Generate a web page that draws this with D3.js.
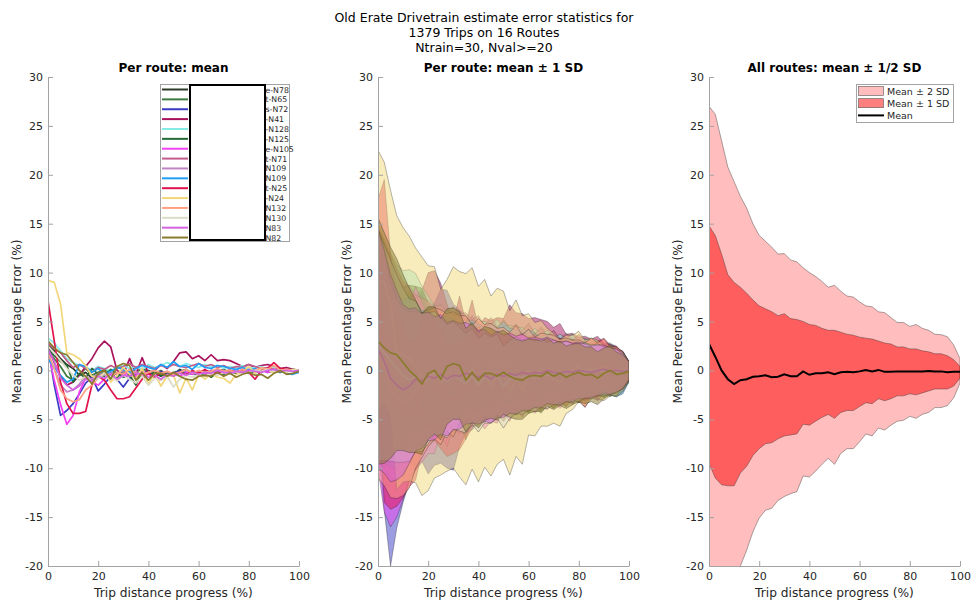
<!DOCTYPE html>
<html>
<head>
<meta charset="utf-8">
<script src="https://cdn.jsdelivr.net/npm/d3@7"></script>
<style>
  body { margin: 0; background: #fff; }
  text { font-family: "DejaVu Sans", sans-serif; fill: #262626; }
</style>
</head>
<body>
<svg id="chart" width="972" height="601"></svg>
<script>
const progress = [0,2.5,5,7.5,10,12.5,15,17.5,20,22.5,25,27.5,30,32.5,35,37.5,40,42.5,45,47.5,50,52.5,55,57.5,60,62.5,65,67.5,70,72.5,75,77.5,80,82.5,85,87.5,90,92.5,95,97.5,100];
const xTicks = [0, 20, 40, 60, 80, 100];
const yTicks = [-20, -15, -10, -5, 0, 5, 10, 15, 20, 25, 30];

const titleLines = ["Old Erate Drivetrain estimate error statistics for", "1379 Trips on 16 Routes", "Ntrain=30, Nval>=20"];
const panelTitles = ["Per route: mean", "Per route: mean \u00b1 1 SD", "All routes: mean \u00b1 1/2 SD"];

const routeLabels = ["e-N78","t-N65","s-N72","-N41","-N128","-N125","e-N105","t-N71","N109","N109","t-N25","-N24","N132","N130","N83","N82"];
const routeColors = ["#2c3b27","#3d7b3e","#3a3ac4","#a8125c","#84ece4","#246b35","#f240f2","#c25b8c","#c183c4","#1e9ef8","#e2124c","#f2d77a","#ff9f82","#dcdcc6","#d463e2","#8a7a2c"];

// mean error per route, one row per route
const routeMeans = [
  [2.6,2.0,1.2,0.6,0.2,-0.5,-0.2,-0.8,-0.4,-0.1,-0.6,-0.3,0.1,-0.5,-0.2,-0.4,0.0,-0.3,-0.6,-0.2,-0.4,0.1,-0.3,-0.2,-0.5,-0.1,-0.2,0.0,-0.3,-0.2,-0.1,-0.3,0.0,-0.2,-0.1,0.1,-0.2,0.0,-0.1,0.0,-0.1],
  [1.9,1.2,0.4,-0.6,-1.0,-0.4,0.2,-0.5,-0.2,0.1,-0.3,-0.8,0.0,-0.4,-0.2,0.2,-0.1,-0.3,0.0,-0.5,-0.2,-0.1,0.1,-0.3,-0.2,0.0,-0.4,-0.1,0.1,-0.2,0.0,-0.1,-0.3,0.0,0.1,-0.1,0.0,-0.2,0.1,0.0,-0.1],
  [2.5,-1.5,-4.6,-4.1,-3.4,-2.4,-1.3,-0.7,-2.1,-1.4,-0.6,-0.9,-1.7,-0.8,-0.4,-0.6,-0.2,-0.5,-0.1,-0.4,-0.3,0.0,-0.2,-0.4,-0.1,-0.3,0.0,-0.2,-0.1,0.0,-0.3,-0.1,0.0,-0.2,0.1,-0.1,0.0,-0.1,0.0,0.1,-0.1],
  [2.4,0.8,-0.6,-1.5,-1.2,-0.5,0.4,1.2,2.3,3.0,2.4,0.0,-0.5,1.2,-0.4,1.3,-0.3,0.0,0.6,0.2,0.9,1.8,1.9,1.2,1.5,1.0,1.6,1.0,1.1,1.0,0.7,0.4,0.6,0.3,0.5,0.6,0.4,0.2,0.3,0.1,0.0],
  [3.3,2.8,2.0,1.2,0.8,0.5,0.3,0.0,0.4,0.2,-0.1,0.3,0.5,0.2,0.4,0.1,0.6,0.3,0.5,0.8,0.6,0.4,0.7,0.5,0.3,0.6,0.4,0.5,0.2,0.4,0.3,0.5,0.2,0.3,0.4,0.1,0.3,0.2,0.1,0.0,-0.1],
  [2.2,1.5,0.9,0.5,-1.2,-0.3,-0.8,0.2,-0.4,-0.6,0.1,-0.3,-0.7,-0.5,-1.5,0.0,-0.4,-0.2,-0.5,-0.3,-0.6,-0.1,-0.4,-0.2,-0.5,-0.3,-0.7,-0.2,-0.4,-0.1,-0.3,0.0,-0.2,-0.1,0.1,-0.2,0.0,-0.1,0.0,0.1,0.0],
  [2.0,-1.0,-3.5,-5.5,-4.6,-2.2,-0.8,-1.2,-1.5,-0.9,-0.3,-1.0,-0.5,-0.2,-0.6,0.0,-0.4,-0.7,-1.0,-0.5,-0.3,-0.6,-0.2,-0.4,-0.1,-0.3,-0.5,-0.2,0.0,-0.3,-0.1,-0.2,0.1,-0.1,0.0,-0.2,0.0,0.1,-0.1,0.0,-0.1],
  [2.8,2.2,1.8,1.0,0.3,0.6,0.2,-0.2,0.3,0.1,0.5,0.2,0.4,0.7,0.3,0.6,0.4,0.2,0.5,0.3,0.6,0.4,0.3,0.5,0.7,0.4,0.6,0.3,0.5,0.2,0.4,0.3,0.6,0.4,0.2,0.3,0.1,0.2,0.0,0.1,-0.1],
  [1.5,0.2,-1.5,-2.2,-2.0,-1.4,-0.6,-0.9,-0.3,-0.5,-0.2,-0.4,0.0,-0.3,-0.1,-0.5,-0.2,0.0,-0.3,-0.1,-0.4,-0.2,0.0,-0.3,-0.1,-0.2,0.0,-0.1,-0.3,-0.1,0.0,-0.2,-0.1,0.0,-0.1,0.1,0.0,-0.1,0.0,0.0,-0.1],
  [1.2,0.3,-0.5,-1.2,-0.9,0.6,0.4,-0.2,0.2,-0.4,-0.1,0.3,0.1,-0.2,0.2,0.5,0.3,0.1,0.6,0.3,0.9,0.4,0.5,0.1,0.7,0.3,0.2,0.5,0.4,0.2,0.1,0.3,0.0,0.2,-0.1,0.1,-0.2,0.0,-0.3,-0.4,-0.2],
  [7.1,3.0,-1.2,-3.4,-4.4,-4.4,-4.2,-1.5,-0.6,-1.0,-2.0,-2.9,-2.9,-2.7,-1.8,-0.9,-0.3,-0.7,-0.2,-0.6,-0.4,-0.2,-0.5,0.0,-0.3,0.1,-0.3,-0.2,-0.1,0.0,-0.2,0.1,-0.2,-0.9,0.0,0.2,0.8,0.2,0.1,0.0,-0.1],
  [9.2,9.0,6.8,1.8,1.6,1.2,0.5,-0.6,-0.8,-0.2,-1.2,-0.5,0.3,-0.4,-0.9,0.2,-1.4,-0.3,-1.6,-0.6,-0.5,-2.3,-0.8,-2.0,-0.4,-0.9,-0.3,-0.7,-0.8,-1.3,-0.4,-0.2,0.4,-0.3,0.2,0.1,-0.3,0.0,-0.2,0.1,0.0],
  [1.8,0.2,-2.0,-2.9,-3.2,-3.0,-2.0,-1.5,-0.8,-0.3,-0.7,-0.2,-0.4,0.1,-0.3,-0.5,-0.2,0.0,-0.3,-0.1,-0.4,-0.2,0.1,-0.3,0.0,-0.2,-0.1,0.2,-0.1,0.0,-0.2,0.1,-0.1,0.0,0.3,0.1,0.5,0.0,0.1,0.0,-0.1],
  [2.5,1.8,1.0,0.2,-0.5,-1.0,-0.6,-1.2,-0.8,-0.3,-0.6,-1.1,-0.5,-0.9,-1.3,-0.6,-1.5,-0.8,-1.0,-0.6,-1.7,-0.9,-0.5,-0.7,-0.4,-0.6,-0.3,-0.5,-0.2,-0.4,-0.1,-0.3,-0.2,0.0,-0.1,0.1,-0.1,0.0,-0.1,0.0,0.0],
  [2.2,0.9,-0.8,-1.5,-2.0,-1.6,-0.9,-1.1,-0.6,-0.8,-0.4,-0.9,-0.5,-0.6,-0.3,-0.4,-0.7,-0.5,-0.9,-0.4,-0.6,-0.3,-0.5,-0.2,-0.4,-0.2,-0.3,0.0,-0.2,-0.3,-0.1,-0.2,0.0,-0.1,-0.2,0.0,0.1,-0.1,0.0,-0.1,0.0],
  [3.0,2.3,1.8,1.6,0.8,0.0,-0.6,-1.4,-0.3,0.0,-0.9,0.4,0.7,0.5,-1.0,-0.2,-1.0,-0.3,-0.3,-0.6,-0.2,-0.6,-0.9,-1.0,-0.6,-0.5,-0.6,-0.2,-0.6,-0.3,-0.7,-0.4,-0.2,-0.5,-0.4,-0.8,-0.3,0.0,-0.4,-0.3,-0.1]
];

// standard deviation per route, same row order
const routeSD = [
  [12.0,11.2,10.1,9.0,8.0,7.5,7.2,6.4,6.0,5.8,5.9,5.4,5.1,5.3,4.8,4.6,4.8,4.3,4.2,4.4,3.9,4.1,3.8,3.6,3.8,3.5,3.4,3.5,3.2,3.3,3.0,3.1,2.8,2.9,2.7,2.5,2.6,2.4,2.1,1.7,0.9],
  [11.5,10.8,10.4,9.5,8.8,8.4,7.3,7.0,6.5,6.6,6.0,5.7,5.9,5.3,5.4,5.0,4.8,4.9,4.5,4.3,4.4,4.0,4.1,3.9,3.6,3.8,3.5,3.3,3.4,3.1,3.2,2.9,3.0,2.8,2.6,2.7,2.4,2.5,2.2,1.9,1.0],
  [10.5,12.8,15.4,12.0,10.1,9.0,8.8,8.6,8.5,8.3,8.9,9.1,8.5,7.0,6.0,5.5,5.1,4.8,4.6,4.4,4.2,4.1,3.9,3.8,3.7,3.5,3.6,3.4,3.2,3.3,3.0,3.1,2.9,2.7,2.8,2.6,2.5,2.3,2.2,1.9,1.0],
  [10.8,10.2,9.6,9.4,8.5,7.9,7.4,7.0,7.7,7.2,6.5,6.8,5.6,6.4,5.3,5.9,4.7,5.4,4.5,5.2,4.4,4.9,4.0,4.6,3.8,4.4,3.6,4.0,3.3,3.8,3.0,3.4,2.8,3.2,2.7,2.9,2.4,2.5,2.2,1.7,0.8],
  [11.0,10.6,10.0,9.6,9.4,9.8,9.6,8.6,7.2,6.4,5.6,5.9,5.0,5.4,4.7,5.0,4.4,4.7,4.2,4.4,3.9,4.2,3.7,3.9,3.5,3.7,3.3,3.6,3.1,3.3,3.0,3.2,2.8,3.0,2.6,2.9,2.5,2.6,2.2,1.8,0.9],
  [12.5,11.6,10.4,9.2,9.8,9.0,9.4,8.2,7.3,6.6,6.0,5.6,5.9,5.1,5.6,4.9,5.2,4.5,4.8,4.2,4.5,3.9,4.2,3.9,3.9,3.5,3.7,3.3,3.5,3.2,3.3,2.9,3.1,2.8,2.8,2.5,2.6,2.3,2.1,1.8,0.9],
  [12.0,13.5,12.5,9.5,8.6,8.8,9.4,8.2,7.0,7.6,6.2,6.8,5.4,6.3,5.0,5.6,4.6,5.3,4.2,4.9,4.1,4.6,3.7,4.4,3.5,4.1,3.3,3.8,3.2,3.6,3.0,3.3,2.7,3.1,2.6,2.9,2.4,2.6,2.2,1.8,0.9],
  [11.2,10.5,10.0,9.4,8.8,8.0,7.5,7.6,6.8,6.4,6.2,5.8,6.1,5.1,5.6,4.6,5.2,4.4,4.9,4.1,4.6,3.9,4.4,3.6,4.1,3.4,3.8,3.2,3.6,3.0,3.4,2.8,3.1,2.7,2.9,2.5,2.6,2.3,2.1,1.8,0.9],
  [10.6,10.0,9.5,9.0,8.2,7.3,6.9,6.5,6.2,5.9,5.7,5.5,5.3,5.0,4.9,4.7,4.6,4.4,4.3,4.1,4.0,3.9,3.8,3.7,3.6,3.5,3.4,3.3,3.2,3.1,3.1,3.0,2.9,2.8,2.7,2.6,2.5,2.4,2.2,1.8,0.9],
  [10.2,9.8,9.4,8.9,8.0,7.0,6.6,6.3,6.0,5.8,5.5,5.3,5.1,4.9,4.8,4.6,4.5,4.3,4.2,4.0,4.1,3.9,3.7,3.6,3.5,3.5,3.3,3.2,3.1,3.0,3.0,2.9,2.8,2.7,2.6,2.6,2.5,2.5,2.4,2.0,1.0],
  [10.4,16.5,13.0,10.5,8.6,7.5,7.0,6.8,6.4,6.2,6.0,5.9,5.6,5.4,5.2,5.0,4.8,4.6,4.5,4.3,4.2,4.1,4.0,3.8,3.7,3.6,3.5,3.4,3.3,3.2,3.1,3.0,2.9,2.9,2.7,2.8,2.5,2.4,2.3,1.9,0.9],
  [13.3,12.3,11.6,14.0,13.0,12.5,12.0,12.2,11.5,10.8,9.5,9.8,10.3,10.5,10.8,10.3,10.0,9.6,9.2,9.0,8.6,8.4,8.0,7.6,6.2,5.8,5.4,5.0,4.6,4.4,4.0,3.8,3.6,3.4,3.1,3.0,2.8,2.6,2.4,1.8,0.9],
  [12.8,12.0,11.0,10.2,9.6,9.0,8.0,7.4,7.0,6.7,6.9,6.0,6.4,5.5,5.9,5.1,5.5,4.7,5.1,4.4,4.8,4.1,4.5,3.9,4.2,3.6,3.9,3.5,3.7,3.2,3.5,3.0,3.2,2.8,3.0,2.7,2.7,2.4,2.3,1.9,1.0],
  [11.8,11.0,10.3,9.6,8.9,8.3,7.7,7.1,6.7,6.3,6.0,5.8,5.5,5.3,5.1,4.9,4.8,4.6,4.4,4.3,4.2,4.0,3.9,3.8,3.7,3.6,3.5,3.4,3.3,3.2,3.1,3.0,2.9,2.8,2.7,2.6,2.5,2.4,2.2,1.8,0.9],
  [12.2,11.4,10.6,9.7,8.7,7.9,7.3,6.9,6.6,6.3,6.1,5.8,5.6,5.4,5.2,5.0,4.8,4.7,4.5,4.4,4.2,4.1,4.0,3.9,3.7,3.6,3.5,3.4,3.3,3.2,3.1,3.0,2.9,2.8,2.7,2.6,2.5,2.4,2.2,1.8,0.9],
  [12.6,11.8,10.8,9.8,9.0,8.4,7.8,7.2,6.8,6.5,6.2,5.9,5.7,5.5,5.3,5.1,4.9,4.8,4.6,4.5,4.3,4.2,4.1,4.0,3.8,3.7,3.6,3.5,3.4,3.3,3.2,3.1,3.0,2.9,2.8,2.7,2.6,2.5,2.3,1.9,1.0]
];

// all routes pooled
const allMean = [2.7,1.4,0.0,-0.9,-1.4,-1.0,-0.9,-0.65,-0.6,-0.5,-0.7,-0.65,-0.4,-0.6,-0.6,-0.1,-0.45,-0.3,-0.3,-0.2,-0.4,-0.2,-0.15,-0.2,-0.1,0.05,-0.1,0.05,-0.15,-0.15,-0.1,-0.1,-0.1,-0.1,-0.1,-0.05,-0.1,-0.1,-0.2,-0.15,-0.15];
const allUpper1 = [14.8,13.8,11.9,9.8,9.0,8.5,7.9,7.2,6.6,6.3,6.0,5.6,5.8,5.3,5.2,5.0,4.7,4.6,4.3,4.1,4.1,3.9,3.7,3.6,3.4,3.3,3.2,3.0,2.8,2.7,2.4,2.4,2.2,2.2,2.0,1.9,1.7,1.7,1.5,1.1,0.4];
const allLower1 = [-9.5,-11.0,-11.7,-11.8,-11.8,-10.5,-9.8,-8.7,-8.0,-7.5,-7.4,-7.0,-6.7,-6.6,-6.5,-5.5,-5.6,-5.2,-4.8,-4.5,-4.9,-4.3,-4.1,-4.1,-3.7,-3.3,-3.4,-2.9,-3.1,-2.9,-2.6,-2.6,-2.4,-2.5,-2.3,-2.1,-1.9,-1.9,-1.9,-1.6,-0.8];
const allUpper2 = [27.0,26.2,23.5,20.8,19.3,17.8,16.6,15.0,13.8,13.2,12.6,11.9,11.95,11.3,11.1,10.5,10.0,9.6,9.1,8.5,8.7,8.1,7.6,7.5,7.0,6.6,6.5,6.0,5.9,5.4,4.9,4.9,4.5,4.7,4.3,4.1,3.7,3.65,3.45,2.6,1.2];
const allLower2 = [-28.0,-28.0,-27.0,-25.0,-22.0,-20.0,-18.4,-16.5,-15.1,-14.3,-14.1,-13.3,-12.9,-12.6,-12.4,-10.8,-10.9,-10.3,-9.6,-9.0,-9.6,-8.5,-8.0,-8.0,-7.3,-6.5,-6.7,-5.9,-6.1,-5.6,-5.2,-5.1,-4.7,-4.9,-4.5,-4.3,-3.8,-3.8,-3.6,-2.8,-1.3];
const summaryLabels = ["Mean \u00b1 2 SD", "Mean \u00b1 1 SD", "Mean"];

class RouteErrorChart {

  constructor() {
    this.svg = d3.select("#chart");
    this.top = 77;
    this.bottom = 566;
    this.panelLeft = [48, 378, 709];
    this.panelWidth = 251;
    this.y = d3.scaleLinear().domain([-20, 30]).range([this.bottom, this.top]);
  }

  xScale(i) {
    return d3.scaleLinear().domain([0, 100]).range([this.panelLeft[i], this.panelLeft[i] + this.panelWidth]);
  }

  panel(i) {
    const x = this.xScale(i);
    const g = this.svg.append("g");

    this.svg.append("clipPath").attr("id", "clip" + i)
      .append("rect")
      .attr("x", this.panelLeft[i]).attr("y", this.top)
      .attr("width", this.panelWidth).attr("height", this.bottom - this.top);

    const plot = g.append("g").attr("clip-path", "url(#clip" + i + ")");

    const xAxis = g.append("g")
      .attr("transform", "translate(0," + this.bottom + ")")
      .call(d3.axisBottom(x).tickValues(xTicks).tickFormat(d => String(d))
        .tickSizeInner(-5).tickSizeOuter(0).tickPadding(6));
    const yAxis = g.append("g")
      .attr("transform", "translate(" + this.panelLeft[i] + ",0)")
      .call(d3.axisLeft(this.y).tickValues(yTicks).tickFormat(d => String(d))
        .tickSizeInner(-5).tickSizeOuter(0).tickPadding(5));
    [xAxis, yAxis].forEach(a => {
      a.attr("font-family", null).attr("font-size", null);
      a.selectAll("path, line").attr("stroke", "#a3a3a3");
      a.selectAll("text").attr("font-size", "11px").attr("fill", "#262626");
    });

    g.append("text")
      .attr("x", this.panelLeft[i] + this.panelWidth / 2).attr("y", 72)
      .attr("text-anchor", "middle").attr("font-size", "12px").attr("font-weight", "bold")
      .style("fill", "#000")
      .text(panelTitles[i]);

    g.append("text")
      .attr("x", this.panelLeft[i] + this.panelWidth / 2).attr("y", 597)
      .attr("text-anchor", "middle").attr("font-size", "12.2px")
      .text("Trip distance progress (%)");

    g.append("text")
      .attr("transform", "translate(" + (this.panelLeft[i] - 27) + "," + ((this.top + this.bottom) / 2) + ") rotate(-90)")
      .attr("text-anchor", "middle").attr("font-size", "12.2px")
      .text("Mean Percentage Error (%)");

    return { x: x, plot: plot };
  }

  drawMeans() {
    const p = this.panel(0);
    const line = d3.line().x((d, j) => p.x(progress[j])).y(d => this.y(d));

    p.plot.selectAll("path.route")
      .data(routeMeans)
      .enter().append("path")
        .attr("class", "route")
        .attr("d", line)
        .attr("fill", "none")
        .attr("stroke", (d, k) => routeColors[k])
        .attr("stroke-width", 1.7)
        .attr("stroke-linejoin", "round");

    // legend (the name column is covered by a blank box in the original)
    const lg = this.svg.append("g");
    lg.append("rect").attr("x", 160.5).attr("y", 84.5).attr("width", 129).attr("height", 157)
      .attr("fill", "#fff").attr("stroke", "#a3a3a3");
    const rowY = k => 89.5 + k * 9.87;
    lg.selectAll("line.key")
      .data(routeColors)
      .enter().append("line")
        .attr("x1", 162).attr("x2", 188)
        .attr("y1", (d, k) => rowY(k)).attr("y2", (d, k) => rowY(k))
        .attr("stroke", d => d).attr("stroke-width", 2);
    lg.selectAll("text.key")
      .data(routeLabels)
      .enter().append("text")
        .attr("x", 265.5).attr("y", (d, k) => rowY(k) + 3)
        .attr("font-size", "7.8px")
        .text(d => d);
    lg.append("rect").attr("x", 190).attr("y", 85).attr("width", 75).attr("height", 155)
      .attr("fill", "#fff").attr("stroke", "#000").attr("stroke-width", 2);
  }

  drawBands() {
    const p = this.panel(1);
    const area = d3.area()
      .x((d, j) => p.x(progress[j]))
      .y0(d => this.y(d[0] - d[1]))
      .y1(d => this.y(d[0] + d[1]));
    const line = d3.line().x((d, j) => p.x(progress[j])).y(d => this.y(d));

    routeMeans.forEach((m, k) => {
      const pairs = m.map((v, j) => [v, routeSD[k][j]]);
      p.plot.append("path")
        .attr("d", area(pairs))
        .attr("fill", routeColors[k]).attr("fill-opacity", 0.5)
        .attr("stroke", "#222").attr("stroke-opacity", 0.55).attr("stroke-width", 0.6);
      p.plot.append("path")
        .attr("d", line(m))
        .attr("fill", "none")
        .attr("stroke", routeColors[k]).attr("stroke-width", 1.7);
    });
  }

  drawSummary() {
    const p = this.panel(2);
    const area = (hi, lo) => d3.area()
      .x((d, j) => p.x(progress[j]))
      .y0((d, j) => this.y(lo[j]))
      .y1((d, j) => this.y(hi[j]))(progress);

    p.plot.append("path").attr("d", area(allUpper2, allLower2))
      .attr("fill", "#ff0000").attr("fill-opacity", 0.26)
      .attr("stroke", "#333").attr("stroke-opacity", 0.7).attr("stroke-width", 0.6);
    p.plot.append("path").attr("d", area(allUpper1, allLower1))
      .attr("fill", "#ff0000").attr("fill-opacity", 0.5)
      .attr("stroke", "#333").attr("stroke-opacity", 0.7).attr("stroke-width", 0.6);
    p.plot.append("path")
      .attr("d", d3.line().x((d, j) => p.x(progress[j])).y(d => this.y(d))(allMean))
      .attr("fill", "none").attr("stroke", "#000").attr("stroke-width", 2);

    const lg = this.svg.append("g");
    lg.append("rect").attr("x", 856.5).attr("y", 84.5).attr("width", 97).attr("height", 38)
      .attr("fill", "#fff").attr("stroke", "#a3a3a3");
    const rowY = k => 91 + k * 12.2;
    [0.26, 0.5].forEach((a, k) => {
      lg.append("rect").attr("x", 858.5).attr("y", rowY(k) - 4.5).attr("width", 25).attr("height", 9)
        .attr("fill", "#ff0000").attr("fill-opacity", a)
        .attr("stroke", "#555").attr("stroke-width", 0.6);
    });
    lg.append("line").attr("x1", 858).attr("x2", 884).attr("y1", rowY(2)).attr("y2", rowY(2))
      .attr("stroke", "#000").attr("stroke-width", 2);
    lg.selectAll("text.key")
      .data(summaryLabels)
      .enter().append("text")
        .attr("x", 887).attr("y", (d, k) => rowY(k) + 3.5)
        .attr("font-size", "9.5px")
        .text(d => d);
  }

  drawTitle() {
    this.svg.selectAll("text.maintitle")
      .data(titleLines)
      .enter().append("text")
        .attr("class", "maintitle")
        .attr("x", 484).attr("y", (d, k) => 21.5 + k * 15)
        .attr("text-anchor", "middle").attr("font-size", "12.5px")
        .style("fill", "#000")
        .text(d => d);
  }
}

const chart = new RouteErrorChart();
chart.drawTitle();
chart.drawMeans();
chart.drawBands();
chart.drawSummary();
</script>
</body>
</html>
